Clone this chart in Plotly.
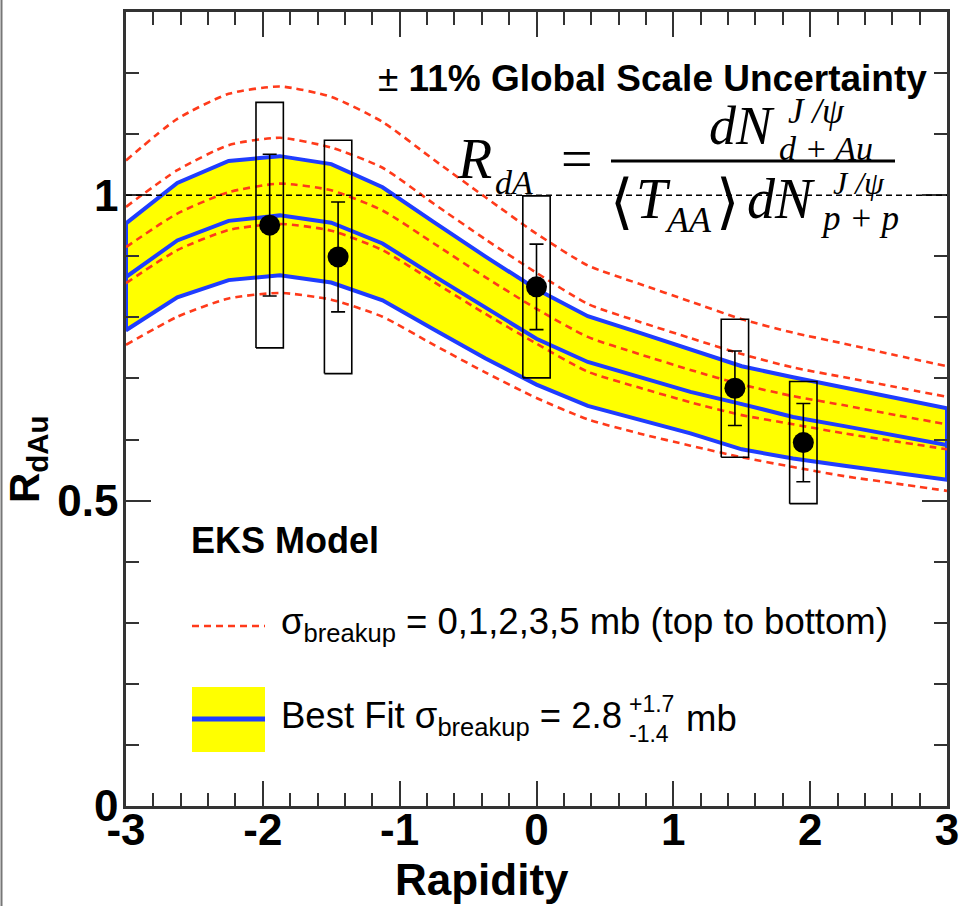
import plotly.graph_objects as go

# ---------------- data ----------------
# EKS shadowing + breakup curves, sampled on a common rapidity grid
rapidity_grid = [-3.0, -2.625, -2.25, -1.875, -1.5, -1.125, -0.75, -0.375, 0.0,
                 0.375, 0.75, 1.125, 1.5, 1.875, 2.25, 2.625, 3.0]

eks_sigma0 = [1.057, 1.125, 1.166, 1.178, 1.161, 1.120, 1.058, 0.997, 0.937,
              0.885, 0.855, 0.826, 0.797, 0.775, 0.757, 0.738, 0.720]
eks_sigma1 = [0.981, 1.041, 1.082, 1.094, 1.078, 1.045, 0.986, 0.928, 0.873,
              0.822, 0.793, 0.766, 0.740, 0.718, 0.702, 0.686, 0.670]
eks_sigma2 = [0.915, 0.970, 1.005, 1.019, 1.008, 0.975, 0.921, 0.866, 0.814,
              0.768, 0.740, 0.714, 0.690, 0.671, 0.656, 0.640, 0.625]
eks_sigma3 = [0.856, 0.910, 0.943, 0.953, 0.942, 0.910, 0.858, 0.806, 0.757,
              0.711, 0.685, 0.661, 0.640, 0.625, 0.610, 0.597, 0.584]
eks_sigma5 = [0.755, 0.801, 0.831, 0.840, 0.829, 0.801, 0.755, 0.710, 0.668,
              0.633, 0.610, 0.590, 0.571, 0.555, 0.540, 0.528, 0.516]

best_fit_upper = [0.954, 1.020, 1.056, 1.064, 1.051, 1.013, 0.956, 0.900, 0.846,
                  0.802, 0.775, 0.747, 0.720, 0.702, 0.685, 0.668, 0.651]
best_fit = [0.866, 0.926, 0.958, 0.967, 0.955, 0.921, 0.868, 0.816, 0.765,
            0.727, 0.702, 0.678, 0.658, 0.637, 0.622, 0.606, 0.591]
best_fit_lower = [0.779, 0.833, 0.861, 0.869, 0.857, 0.828, 0.780, 0.733, 0.690,
                  0.655, 0.632, 0.610, 0.584, 0.569, 0.557, 0.545, 0.534]

# measured J/psi R_dAu
data_rapidity = [-1.95, -1.45, 0.0, 1.45, 1.95]
data_rdau = [0.951, 0.899, 0.850, 0.684, 0.595]
data_stat = [0.116, 0.090, 0.070, 0.061, 0.064]
data_syst = [0.201, 0.191, 0.149, 0.113, 0.100]
syst_box_halfwidth = 0.1

unity = 1.0

x_tick_vals = [-3, -2, -1, 0, 1, 2, 3]
x_tick_text = ["-3", "-2", "-1", "0", "1", "2", "3"]
y_tick_vals = [0, 0.5, 1]
y_tick_text = ["0", "0.5", "1"]

# ---------------- styling ----------------
SANS = "Liberation Sans, Arial, Helvetica, sans-serif"
SERIF = "Liberation Serif, Times New Roman, serif"
BLUE = "#1f3dff"
RED = "#ff3a1a"
YELLOW = "#ffff00"
AXIS = "#333333"

W, H = 961, 906
L, R, T, B = 126, 14, 12, 100
PW, PH = W - L - R, H - T - B


def px(x):
    return (x - L) / PW


def py(y):
    return (H - B - y) / PH


fig = go.Figure()

# yellow best-fit band, outlined in blue (closed polygon)
band_x = rapidity_grid + rapidity_grid[::-1] + [rapidity_grid[0]]
band_y = best_fit_upper + best_fit_lower[::-1] + [best_fit_upper[0]]
fig.add_trace(go.Scatter(x=band_x, y=band_y, mode="lines", fill="toself",
                         fillcolor=YELLOW, line=dict(color=BLUE, width=4),
                         hoverinfo="skip", showlegend=False))

# central best-fit curve
fig.add_trace(go.Scatter(x=rapidity_grid, y=best_fit, mode="lines",
                         line=dict(color=BLUE, width=4), showlegend=False))

# red dashed breakup cross-section curves
for curve in (eks_sigma0, eks_sigma1, eks_sigma2, eks_sigma3, eks_sigma5):
    fig.add_trace(go.Scatter(x=rapidity_grid, y=curve, mode="lines",
                             line=dict(color=RED, width=2.6, dash="7px,5px",
                                       shape="spline", smoothing=0.6),
                             showlegend=False))

# systematic boxes
bx, by = [], []
for x, y, s in zip(data_rapidity, data_rdau, data_syst):
    x0, x1 = x - syst_box_halfwidth, x + syst_box_halfwidth
    bx += [x0, x1, x1, x0, x0, None]
    by += [y - s, y - s, y + s, y + s, y - s, None]
fig.add_trace(go.Scatter(x=bx, y=by, mode="lines",
                         line=dict(color="black", width=1.6), showlegend=False))

# data points with statistical errors
fig.add_trace(go.Scatter(x=data_rapidity, y=data_rdau, mode="markers",
                         marker=dict(color="black", size=21),
                         error_y=dict(type="data", array=data_stat, color="black",
                                      thickness=1.6, width=7),
                         showlegend=False))

shapes = [
    # unity reference line
    dict(type="line", xref="paper", yref="y", x0=0, x1=1, y0=unity, y1=unity,
         line=dict(color="black", width=1.5, dash="6px,4px"), layer="above"),
    # canvas edge on the left
    dict(type="line", xref="paper", yref="paper", x0=px(1.5), x1=px(1.5),
         y0=py(0), y1=py(H), line=dict(color="#777777", width=2)),
    # fraction bar of the formula
    dict(type="line", xref="paper", yref="paper", x0=px(611), x1=px(895),
         y0=py(161), y1=py(161), line=dict(color="black", width=3)),
    # legend glyphs
    dict(type="line", xref="paper", yref="paper", x0=px(192), x1=px(265),
         y0=py(626), y1=py(626), line=dict(color=RED, width=2.6, dash="7px,5px")),
    dict(type="rect", xref="paper", yref="paper", x0=px(192), x1=px(265),
         y0=py(752), y1=py(687), fillcolor=YELLOW, line=dict(width=0)),
    dict(type="line", xref="paper", yref="paper", x0=px(192), x1=px(265),
         y0=py(719), y1=py(719), line=dict(color=BLUE, width=5)),
]


def label(text, x, y, size, family=SANS, xanchor="left", color="black",
          weight="normal", angle=0):
    return dict(text=text, xref="paper", yref="paper", x=px(x), y=py(y),
                xanchor=xanchor, yanchor="middle", showarrow=False,
                textangle=angle,
                font=dict(family=family, size=size, color=color, weight=weight))


def eq(text, cx, cy, size):
    return label(text, cx, cy, size, SERIF, xanchor="center")


annotations = [
    label("± <b>11% Global Scale Uncertainty</b>", 376, 79, 37),
    # R_dA = dN^{J/psi}_{d+Au} / (<T_AA> dN^{J/psi}_{p+p})
    eq("<i>R</i>", 474, 159, 56),
    eq("<i>dA</i>", 514, 182, 34),
    eq("=", 577, 159, 56),
    eq("<i>dN</i>", 742, 126, 54),
    eq("<i>J /ψ</i>", 816, 112, 35),
    eq("<i>d + Au</i>", 826, 148, 34),
    eq("⟨", 621, 202, 60),
    eq("<i>T</i>", 653, 199, 56),
    eq("<i>AA</i>", 688, 220, 36),
    eq("⟩", 727, 202, 60),
    eq("<i>dN</i>", 781, 199, 56),
    eq("<i>J /ψ</i>", 859, 183, 32),
    eq("<i>p + p</i>", 859, 219, 35),
    # legend
    label("<b>EKS Model</b>", 189, 540, 36),
    label("σ<sub>breakup</sub> = 0,1,2,3,5 mb (top to bottom)", 279, 624, 36.5),
    label("Best Fit σ<sub>breakup</sub> = 2.8", 279, 718, 36.5),
    label("+1.7", 627, 704, 23),
    label("-1.4", 627, 734, 23),
    label("mb", 684, 718, 36.5),
    # axis titles
    label("<b>Rapidity</b>", 482, 879, 44, xanchor="center"),
    label("<b>R<sub>dAu</sub></b>", 27, 460, 42, xanchor="center", angle=-90),
]

axis_common = dict(
    showline=True, linecolor=AXIS, linewidth=2.5, mirror="ticks",
    ticks="inside", ticklen=25, tickwidth=2, tickcolor=AXIS,
    showgrid=False, zeroline=False, automargin=False,
    tickfont=dict(family=SANS, size=44, color="black", weight="bold"),
)

fig.update_xaxes(range=[-3, 3], tickvals=x_tick_vals, ticktext=x_tick_text,
                 ticklabelstandoff=-17,
                 minor=dict(dtick=0.2, ticklen=13, tickwidth=2, tickcolor=AXIS,
                            ticks="inside", showgrid=False),
                 **axis_common)
fig.update_yaxes(range=[0, 1.3], tickvals=y_tick_vals, ticktext=y_tick_text,
                 ticklabelstandoff=-4,
                 minor=dict(dtick=0.1, ticklen=13, tickwidth=2, tickcolor=AXIS,
                            ticks="inside", showgrid=False),
                 **axis_common)

fig.update_layout(
    width=W, height=H,
    margin=dict(l=L, r=R, t=T, b=B),
    paper_bgcolor="white", plot_bgcolor="white",
    shapes=shapes, annotations=annotations,
    showlegend=False,
)

fig.write_html("out.html")
